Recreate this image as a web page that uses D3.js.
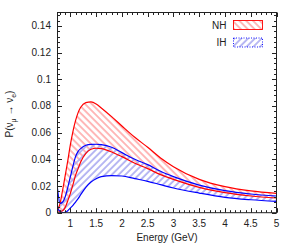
<!DOCTYPE html>
<html>
<head>
<meta charset="utf-8">
<script src="https://cdn.jsdelivr.net/npm/d3@7"></script>
<style>
  body { margin: 0; background: #fff; }
  text { font-family: "Liberation Sans", Arial, sans-serif; fill: #222; }
</style>
</head>
<body>
<svg id="chart" width="294" height="245"></svg>
<script>
// energies (GeV) and probability bands
const energy   = [0.75, 0.8, 0.85, 0.9, 0.95, 1.0, 1.05, 1.1, 1.15, 1.2, 1.3, 1.4, 1.5, 1.6, 1.8, 2.0, 2.25, 2.5, 2.75, 3.0, 3.5, 4.0, 4.5, 5.0];
const nhUpper  = [0.002, 0.007, 0.017, 0.028, 0.039, 0.051, 0.061, 0.069, 0.075, 0.079, 0.0825, 0.083, 0.0815, 0.0785, 0.072, 0.065, 0.0565, 0.049, 0.041, 0.0345, 0.025, 0.0195, 0.0163, 0.0145];
const nhLower  = [0.0015, 0.001, 0.0015, 0.004, 0.009, 0.0145, 0.021, 0.028, 0.033, 0.038, 0.0445, 0.0475, 0.0483, 0.048, 0.0455, 0.042, 0.037, 0.033, 0.0285, 0.025, 0.019, 0.015, 0.0125, 0.011];
const ihUpper  = [0.018, 0.007, 0.008, 0.012, 0.019, 0.027, 0.035, 0.042, 0.046, 0.048, 0.0505, 0.0512, 0.0513, 0.051, 0.049, 0.045, 0.040, 0.036, 0.031, 0.027, 0.0207, 0.0165, 0.014, 0.0125];
const ihLower  = [0.003, 0.001, 0.0, 0.0003, 0.0015, 0.0035, 0.0055, 0.008, 0.0105, 0.0135, 0.019, 0.023, 0.0255, 0.027, 0.0278, 0.0275, 0.0255, 0.0235, 0.021, 0.0185, 0.0147, 0.0115, 0.0097, 0.0085];

const xTicks = [1, 1.5, 2, 2.5, 3, 3.5, 4, 4.5, 5];
const yTicks = [0, 0.02, 0.04, 0.06, 0.08, 0.1, 0.12, 0.14];

const svg = d3.select("#chart");
const mLeft = 57.5, mRight = 276.5, mTop = 12.5, mBottom = 212.7;

const x = d3.scaleLinear().domain([0.75, 5]).range([mLeft, mRight]);
const y = d3.scaleLinear().domain([0, 0.15]).range([mBottom, mTop]);

const defs = svg.append("defs");
defs.append("clipPath").attr("id", "plotclip")
  .append("rect").attr("x", mLeft).attr("y", mTop)
  .attr("width", mRight - mLeft).attr("height", mBottom - mTop);

function hatch(id, angle, color) {
  defs.append("pattern")
      .attr("id", id)
      .attr("patternUnits", "userSpaceOnUse")
      .attr("width", 4.8).attr("height", 10)
      .attr("patternTransform", `rotate(${angle})`)
    .append("line")
      .attr("x1", 1).attr("y1", 0).attr("x2", 1).attr("y2", 10)
      .attr("stroke", color).attr("stroke-width", 1.6);
}
hatch("hatchNH", -45, "#ffa8a8");
hatch("hatchIH", 45, "#a8a8f0");

const pts = (a) => energy.map((e, i) => [e, a[i]]);
const line = d3.line().x(d => x(d[0])).y(d => y(d[1])).curve(d3.curveMonotoneX);
const area = d3.area()
  .x(d => x(d[0])).y0(d => y(d[1])).y1(d => y(d[2]))
  .curve(d3.curveMonotoneX);

const plot = svg.append("g").attr("clip-path", "url(#plotclip)");

// bands
plot.append("path")
  .attr("d", area(energy.map((e, i) => [e, nhLower[i], nhUpper[i]])))
  .attr("fill", "url(#hatchNH)");
plot.append("path")
  .attr("d", area(energy.map((e, i) => [e, ihLower[i], ihUpper[i]])))
  .attr("fill", "url(#hatchIH)");

// outline curves
[[nhUpper, "#f00"], [nhLower, "#f00"], [ihUpper, "#00f"], [ihLower, "#00f"]].forEach(([a, c]) => {
  plot.append("path")
    .attr("d", line(pts(a)))
    .attr("fill", "none")
    .attr("stroke", c)
    .attr("stroke-width", 1.2);
});

// ticks on all four sides
const tk = svg.append("g").attr("stroke", "#222").attr("stroke-width", 1);
const xMinor = d3.range(8, 51).map(v => v / 10);
xMinor.forEach(v => {
  const major = Math.abs(v * 2 - Math.round(v * 2)) < 1e-6;
  const len = major ? 4.5 : 2.5;
  const px = Math.round(x(v)) + 0.5;
  tk.append("line").attr("x1", px).attr("x2", px).attr("y1", mBottom).attr("y2", mBottom - len);
  tk.append("line").attr("x1", px).attr("x2", px).attr("y1", mTop).attr("y2", mTop + len);
});
const yMinor = d3.range(0, 38).map(v => v * 0.004);
yMinor.forEach(v => {
  const major = Math.abs(v / 0.02 - Math.round(v / 0.02)) < 1e-6;
  const len = major ? 4.5 : 2.5;
  const py = Math.round(y(v)) + 0.5;
  tk.append("line").attr("y1", py).attr("y2", py).attr("x1", mLeft).attr("x2", mLeft + len);
  tk.append("line").attr("y1", py).attr("y2", py).attr("x1", mRight).attr("x2", mRight - len);
});

// frame
svg.append("rect")
  .attr("x", mLeft).attr("y", mTop)
  .attr("width", mRight - mLeft).attr("height", mBottom - mTop)
  .attr("fill", "none").attr("stroke", "#222").attr("stroke-width", 1);

// tick labels
svg.append("g").selectAll("text").data(xTicks).join("text")
  .attr("x", d => x(d)).attr("y", 226.5)
  .attr("text-anchor", "middle").attr("font-size", 10)
  .text(d => d);
svg.append("g").selectAll("text").data(yTicks).join("text")
  .attr("x", 51).attr("y", d => y(d) + 3.5)
  .attr("text-anchor", "end").attr("font-size", 10)
  .text(d => d);

// axis titles
svg.append("text")
  .attr("x", (mLeft + mRight) / 2).attr("y", 240.5)
  .attr("text-anchor", "middle").attr("font-size", 10)
  .text("Energy (GeV)");

const yl = svg.append("text")
  .attr("transform", "translate(13,114) rotate(-90)")
  .attr("text-anchor", "middle").attr("font-size", 10);
yl.append("tspan").text("P(ν");
yl.append("tspan").attr("font-size", 7).attr("dy", 2.5).text("μ");
yl.append("tspan").attr("dy", -2.5).text(" → ν");
yl.append("tspan").attr("font-size", 7).attr("dy", 2.5).text("e");
yl.append("tspan").attr("dy", -2.5).text(")");

// legend
const legend = [
  { label: "NH", fill: "url(#hatchNH)", stroke: "#f00", dash: null, y: 20 },
  { label: "IH", fill: "url(#hatchIH)", stroke: "#00f", dash: "1,1.5", y: 37.5 }
];
legend.forEach(d => {
  svg.append("text")
    .attr("x", 226.5).attr("y", d.y + 8.5)
    .attr("text-anchor", "end").attr("font-size", 10)
    .text(d.label);
  svg.append("rect")
    .attr("x", 233.5).attr("y", d.y + 0.5)
    .attr("width", 29).attr("height", 9)
    .attr("fill", d.fill)
    .attr("stroke", d.stroke).attr("stroke-width", 0.9)
    .attr("stroke-dasharray", d.dash);
});
</script>
</body>
</html>
